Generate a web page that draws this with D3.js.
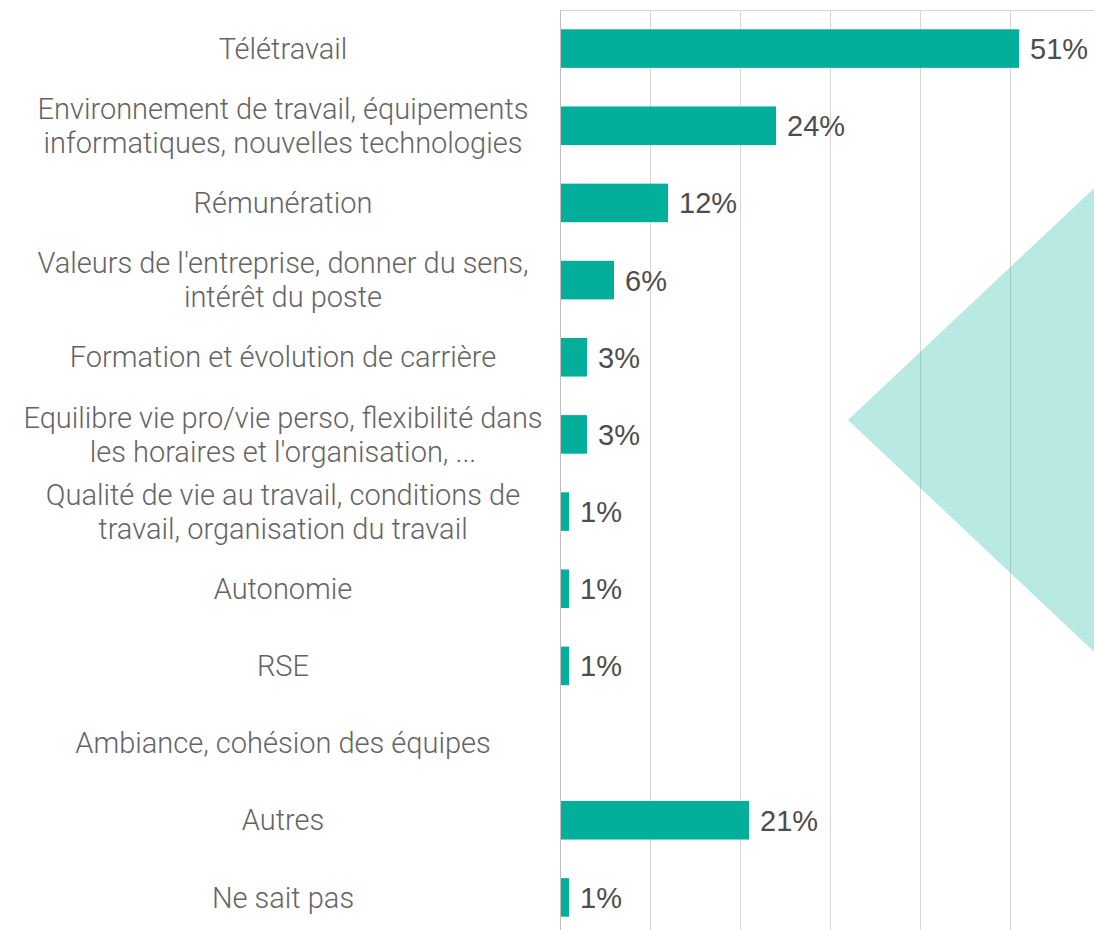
<!DOCTYPE html>
<html>
<head>
<meta charset="utf-8">
<script src="https://cdn.jsdelivr.net/npm/d3@7"></script>
<style>
  html, body { margin: 0; padding: 0; background: #ffffff; }
  svg { display: block; }
</style>
</head>
<body>
<svg id="chart" width="1094" height="930"></svg>
<script>
// ---- Data ----
const categories = [
  ["Télétravail"],
  ["Environnement de travail, équipements", "informatiques, nouvelles technologies"],
  ["Rémunération"],
  ["Valeurs de l'entreprise, donner du sens,", "intérêt du poste"],
  ["Formation et évolution de carrière"],
  ["Equilibre vie pro/vie perso, flexibilité dans", "les horaires et l'organisation, ..."],
  ["Qualité de vie au travail, conditions de", "travail, organisation du travail"],
  ["Autonomie"],
  ["RSE"],
  ["Ambiance, cohésion des équipes"],
  ["Autres"],
  ["Ne sait pas"]
];
const values = [51, 24, 12, 6, 3, 3, 1, 1, 1, 0, 21, 1];
const gridTicks = [0, 10, 20, 30, 40, 50, 60];

// ---- Layout ----
const W = 1094, H = 930;
const plotLeft = 560, plotTop = 10, plotRight = 1100, plotBottom = 936;
const labelCenterX = 283;

const svg = d3.select("#chart");

const x = d3.scaleLinear().domain([0, 60]).range([plotLeft, plotRight]);
const y = d3.scaleBand()
  .domain(d3.range(categories.length))
  .range([plotTop, plotBottom])
  .paddingInner(0.5)
  .paddingOuter(0.25);

// gridlines
svg.append("g")
  .selectAll("line")
  .data(gridTicks.slice(1))
  .join("line")
  .attr("x1", d => x(d) + 0.5).attr("x2", d => x(d) + 0.5)
  .attr("y1", plotTop).attr("y2", H)
  .attr("stroke", "#d6d6d6").attr("stroke-width", 1);

// top border
svg.append("line")
  .attr("x1", plotLeft).attr("x2", W)
  .attr("y1", plotTop + 0.5).attr("y2", plotTop + 0.5)
  .attr("stroke", "#d6d6d6");

// bars
svg.append("g")
  .selectAll("rect")
  .data(values)
  .join("rect")
  .attr("x", x(0))
  .attr("y", (d, i) => y(i))
  .attr("width", d => x(d) - x(0))
  .attr("height", y.bandwidth())
  .attr("fill", "#03ae9a");

// value labels
svg.append("g")
  .selectAll("text")
  .data(values.map((v, i) => ({v, i})).filter(d => d.v > 0))
  .join("text")
  .attr("x", d => x(d.v) + 11)
  .attr("y", d => y(d.i) + y.bandwidth() / 2)
  .attr("dy", "0.36em")
  .attr("font-family", "'Liberation Sans', Arial, sans-serif")
  .attr("font-size", 29)
  .attr("fill", "#4d4d4d")
  .text(d => d.v + "%");

// category labels
const lineH = 34;
const lab = svg.append("g")
  .attr("font-family", "Roboto, 'Liberation Sans', sans-serif")
  .attr("font-weight", 300)
  .attr("font-size", 29)
  .attr("fill", "#646464")
  .attr("text-anchor", "middle");
categories.forEach((lines, i) => {
  const cy = y(i) + y.bandwidth() / 2;
  const t = lab.append("text").attr("x", labelCenterX).attr("y", cy);
  lines.forEach((ln, k) => {
    t.append("tspan")
      .attr("x", labelCenterX)
      .attr("y", cy + (k - (lines.length - 1) / 2) * lineH)
      .attr("dy", "0.35em")
      .text(ln);
  });
});

// axis line
svg.append("line")
  .attr("x1", plotLeft + 0.5).attr("x2", plotLeft + 0.5)
  .attr("y1", plotTop).attr("y2", H)
  .attr("stroke", "#bfbfbf");

// decorative translucent diamond (edges pass through (1094,188) and (1094,650))
const decoDiamond = [[848, 420], [1400, -100], [1400, 940]];
svg.append("polygon")
  .attr("points", decoDiamond.map(p => p.join(",")).join(" "))
  .attr("fill", "#00b09b")
  .attr("fill-opacity", 0.28);
</script>
</body>
</html>
